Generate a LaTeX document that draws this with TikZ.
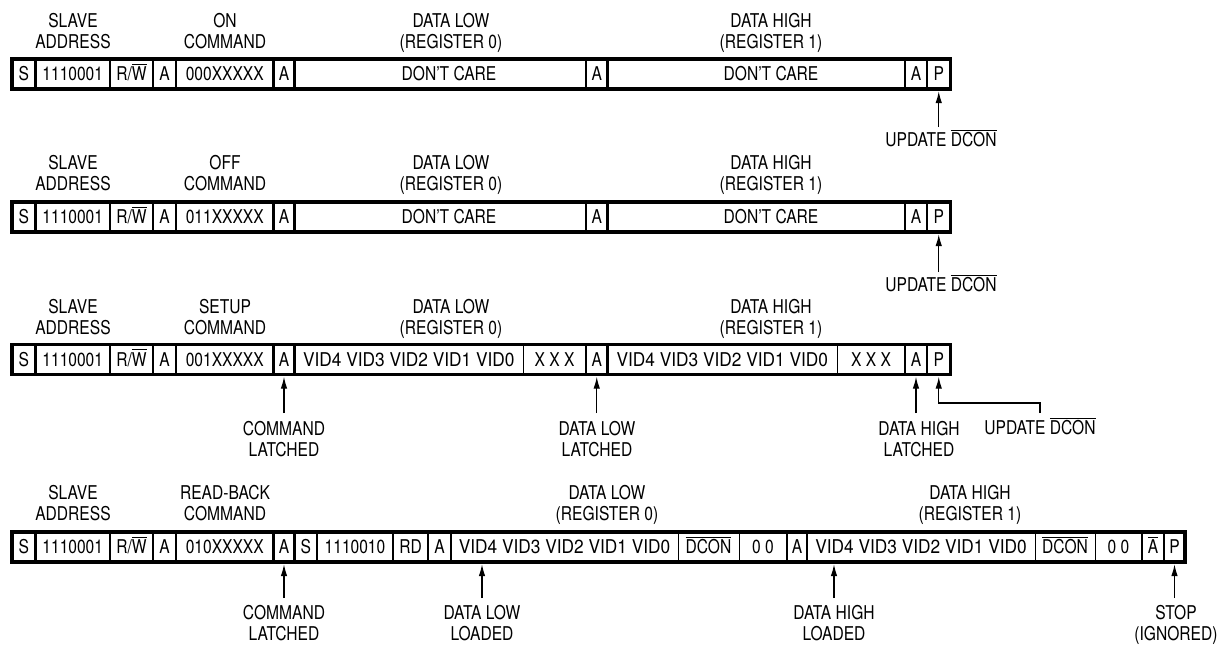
\documentclass[tikz,border=0pt]{standalone}
\usepackage{fontspec}
\usepackage{graphicx}
\setmainfont{TeX Gyre Heros}[FakeStretch=0.82]
\usetikzlibrary{arrows.meta,calc}
\newcommand\ovl[1]{\leavevmode\vbox{\hrule height 1.1pt\kern 2pt\hbox{#1}}}
\newcommand\vids{\scalebox{1.11}[1]{VID4 VID3 VID2 VID1 VID0}}
\newcommand\fld[4]{\node[fld, minimum width={(#3)-(#2)}] (#1) at ({((#2)+(#3))/2},\ry) {#4};}
\tikzset{
  fnt/.style={font=\fontsize{19}{21}\selectfont},
  fld/.style={fnt, inner sep=0pt, minimum height=30pt, text height=13.6pt, text depth=0pt},
  lbl/.style={fnt, inner sep=0pt, align=center, anchor=north},
  lblone/.style={fnt, inner sep=0pt, text height=13.6pt, text depth=0pt},
  frame/.style={line width=3.5pt},
  sepk/.style={line width=2.6pt},
  sepn/.style={line width=1pt},
  arr/.style={line width=1.2pt, -{Latex[length=12pt,width=6.5pt]}},
}
\begin{document}
\begin{tikzpicture}[x=1pt,y=-1pt]
\useasboundingbox (0,0) rectangle (1223,645);

% ---------------- Row 1 ----------------
\def\ry{74}
\draw[frame] (12,59) rectangle (950.5,89);
\foreach \x in {35.5,110,153,176,273.5,294.5,586,607.5,905,927}
  \draw[sepk] (\x,59) -- (\x,89);
\fld{aS}{12}{35.5}{S}
\fld{aAd}{35.5}{110}{1110001}
\fld{aRW}{110}{153}{R/\ovl{W}}
\fld{aAa}{153}{176}{A}
\fld{aCmd}{176}{273.5}{000XXXXX}
\fld{aAb}{273.5}{294.5}{A}
\node[fld] (aDl) at (449,\ry) {DON'T CARE};
\fld{aAc}{586}{607.5}{A}
\node[fld] (aDh) at (771,\ry) {DON'T CARE};
\fld{aAd2}{905}{927}{A}
\fld{aP}{927}{950.5}{P}
\node[lbl] (aL1) at (73,13.2) {SLAVE\\ADDRESS};
\node[lbl] (aL2) at (225,13.2) {ON\\COMMAND};
\node[lbl] (aL3) at (451,13.2) {DATA LOW\\(REGISTER 0)};
\node[lbl] (aL4) at (771,13.2) {DATA HIGH\\(REGISTER 1)};
\node[lblone] (aU) at (941,140) {UPDATE \ovl{DCON}};
\draw[arr] ($(aU.north -| aP.south)+(0,-6)$) -- ($(aP.south)+(0,2)$);

% ---------------- Row 2 ----------------
\def\ry{217}
\draw[frame] (12,202) rectangle (950.5,232);
\foreach \x in {35.5,110,153,176,273.5,294.5,586,607.5,905,927}
  \draw[sepk] (\x,202) -- (\x,232);
\fld{bS}{12}{35.5}{S}
\fld{bAd}{35.5}{110}{1110001}
\fld{bRW}{110}{153}{R/\ovl{W}}
\fld{bAa}{153}{176}{A}
\fld{bCmd}{176}{273.5}{011XXXXX}
\fld{bAb}{273.5}{294.5}{A}
\node[fld] (bDl) at (449,\ry) {DON'T CARE};
\fld{bAc}{586}{607.5}{A}
\node[fld] (bDh) at (771,\ry) {DON'T CARE};
\fld{bAd2}{905}{927}{A}
\fld{bP}{927}{950.5}{P}
\node[lbl] (bL1) at (73,155.2) {SLAVE\\ADDRESS};
\node[lbl] (bL2) at (225,155.2) {OFF\\COMMAND};
\node[lbl] (bL3) at (451,155.2) {DATA LOW\\(REGISTER 0)};
\node[lbl] (bL4) at (771,155.2) {DATA HIGH\\(REGISTER 1)};
\node[lblone] (bU) at (941,285) {UPDATE \ovl{DCON}};
\draw[arr] ($(bU.north -| bP.south)+(0,-6)$) -- ($(bP.south)+(0,2)$);

% ---------------- Row 3 ----------------
\def\ry{359.5}
\draw[frame] (12,344.5) rectangle (950.5,374.5);
\foreach \x in {35.5,110,153,176,273.5,294.5,586,607.5,905,927}
  \draw[sepk] (\x,344.5) -- (\x,374.5);
\foreach \x in {523,837}
  \draw[sepn] (\x,344.5) -- (\x,374.5);
\fld{cS}{12}{35.5}{S}
\fld{cAd}{35.5}{110}{1110001}
\fld{cRW}{110}{153}{R/\ovl{W}}
\fld{cAa}{153}{176}{A}
\fld{cCmd}{176}{273.5}{001XXXXX}
\fld{cAb}{273.5}{294.5}{A}
\fld{cVl}{294.5}{523}{\vids}
\fld{cXl}{523}{586}{X X X}
\fld{cAc}{586}{607.5}{A}
\fld{cVh}{607.5}{837}{\vids}
\fld{cXh}{837}{905}{X X X}
\fld{cAd2}{905}{927}{A}
\fld{cP}{927}{950.5}{P}
\node[lbl] (cL1) at (73,299.2) {SLAVE\\ADDRESS};
\node[lbl] (cL2) at (225,299.2) {SETUP\\COMMAND};
\node[lbl] (cL3) at (451,299.2) {DATA LOW\\(REGISTER 0)};
\node[lbl] (cL4) at (771,299.2) {DATA HIGH\\(REGISTER 1)};
\node[lbl] (cB1) at (284,421.2) {COMMAND\\LATCHED};
\node[lbl] (cB2) at (597,421.2) {DATA LOW\\LATCHED};
\node[lbl] (cB3) at (919,421.2) {DATA HIGH\\LATCHED};
\node[lblone] (cU) at (1040,428) {UPDATE \ovl{DCON}};
\draw[arr] ($(cB1.north -| cAb.south)+(0,-8)$) -- ($(cAb.south)+(0,2)$);
\draw[arr] ($(cB2.north -| cAc.south)+(0,-8)$) -- ($(cAc.south)+(0,2)$);
\draw[arr] ($(cB3.north -| cAd2.south)+(0,-8)$) -- ($(cAd2.south)+(0,2)$);
\draw[arr] ($(cU.north)+(0,-8)$) -- ++(0,-10) -| ($(cP.south)+(0,2)$);

% ---------------- Row 4 ----------------
\def\ry{547}
\draw[frame] (12,532) rectangle (1185,562);
\foreach \x in {35.5,110,153,176,273.5,294.5,317,393,428,451,787,807,1142,1164}
  \draw[sepk] (\x,532) -- (\x,562);
\foreach \x in {678,739,1035,1095}
  \draw[sepn] (\x,532) -- (\x,562);
\fld{dS}{12}{35.5}{S}
\fld{dAd}{35.5}{110}{1110001}
\fld{dRW}{110}{153}{R/\ovl{W}}
\fld{dAa}{153}{176}{A}
\fld{dCmd}{176}{273.5}{010XXXXX}
\fld{dAb}{273.5}{294.5}{A}
\fld{dS2}{294.5}{317}{S}
\fld{dAd2}{317}{393}{1110010}
\fld{dRD}{393}{428}{RD}
\fld{dAc}{428}{451}{A}
\fld{dVl}{451}{678}{\vids}
\fld{dDl}{678}{739}{\ovl{DCON}}
\fld{dZl}{739}{787}{0 0}
\fld{dAe}{787}{807}{A}
\fld{dVh}{807}{1035}{\vids}
\fld{dDh}{1035}{1095}{\ovl{DCON}}
\fld{dZh}{1095}{1142}{0 0}
\fld{dNA}{1142}{1164}{\ovl{A}}
\fld{dP}{1164}{1185}{P}
\node[lbl] (dL1) at (73,485.2) {SLAVE\\ADDRESS};
\node[lbl] (dL2) at (225,485.2) {READ-BACK\\COMMAND};
\node[lbl] (dL3) at (607,485.2) {DATA LOW\\(REGISTER 0)};
\node[lbl] (dL4) at (970,485.2) {DATA HIGH\\(REGISTER 1)};
\node[lbl] (dB1) at (284,605) {COMMAND\\LATCHED};
\node[lbl] (dB2) at (482,605) {DATA LOW\\LOADED};
\node[lbl] (dB3) at (834,605) {DATA HIGH\\LOADED};
\node[lbl] (dB4) at (1176,605) {STOP\\(IGNORED)};
\draw[arr] ($(dB1.north -| dAb.south)+(0,-7)$) -- ($(dAb.south)+(0,2)$);
\draw[arr] ($(dB2.north)+(0,-7)$) -- ($(dB2.north |- dVl.south)+(0,2)$);
\draw[arr] ($(dB3.north)+(0,-7)$) -- ($(dB3.north |- dVh.south)+(0,2)$);
\draw[arr] ($(dB4.north -| dP.south)+(0,-7)$) -- ($(dP.south)+(0,2)$);
\end{tikzpicture}
\end{document}
